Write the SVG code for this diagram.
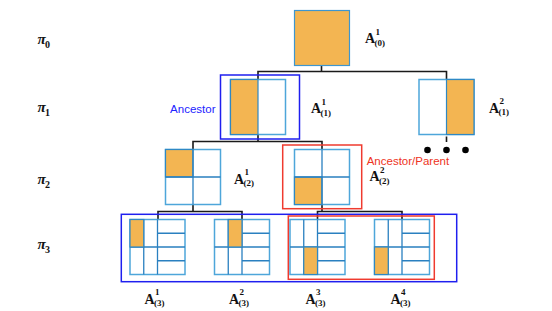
<svg xmlns="http://www.w3.org/2000/svg" width="552" height="311" viewBox="0 0 552 311">
<style>
.n{fill:#fff;stroke:#4ea6da;stroke-width:1.5}
.o{fill:#F3B552;stroke:#2f88c4;stroke-width:1.2}
.g{stroke:#2a80c0;stroke-width:1.3;fill:none}
.c{stroke:#1a1a1a;stroke-width:1.6;fill:none}
.bb{fill:none;stroke:#1f1fef;stroke-width:1.5}
.rb{fill:none;stroke:#ef3b2f;stroke-width:1.5}
.A{font-family:"Liberation Serif",serif;font-weight:bold;font-size:14px;fill:#111}
.s{font-family:"Liberation Serif",serif;font-weight:bold;font-size:9px;fill:#111}
.p{font-family:"Liberation Serif",serif;font-weight:bold;font-style:italic;font-size:15px;fill:#111}
.ps{font-family:"Liberation Serif",serif;font-weight:bold;font-size:10px;fill:#111}
.lb{font-family:"Liberation Sans",Arial,sans-serif;font-size:11.5px;fill:#2222ff}
.lr{font-family:"Liberation Sans",Arial,sans-serif;font-size:11.5px;fill:#ee3322}
</style>
<defs>
<g id="g3">
<rect class="n" x="0" y="0" width="55" height="55"/>
<path class="g" d="M13.75 0V55M27.5 0V55M0 27.5H27.5M27.5 13.75H55M27.5 27.5H55M27.5 41.25H55"/>
</g>
</defs>

<g id="levels">
<text class="p" x="37.5" y="44">π</text><text class="ps" x="45" y="47.5">0</text>
<text class="p" x="37.5" y="112">π</text><text class="ps" x="45" y="115.5">1</text>
<text class="p" x="37.5" y="184">π</text><text class="ps" x="45" y="187.5">2</text>
<text class="p" x="37.5" y="249">π</text><text class="ps" x="45" y="252.5">3</text>
</g>

<g id="connectors">
<path class="c" d="M321.5 65V71.5M258 79.5V71.5H446.5V79.5"/>
<path class="c" d="M258 134.5V141.5M193 149.5V141.5H322V149.5"/>
<path class="c" d="M446.5 136.5V142"/>
<path class="c" d="M193 204.5V211.5M158 219.5V211.5H242V219.5"/>
<path class="c" d="M322 204.5V211.5M317.5 219.5V211.5H402V219.5"/>
</g>

<g id="boxes">
<rect class="bb" x="220.5" y="75" width="79" height="64"/>
<rect class="rb" x="282.7" y="145" width="79" height="63.7"/>
<rect class="bb" x="121.3" y="214.3" width="335.4" height="67.4"/>
<rect class="rb" x="288.3" y="216" width="146" height="63.3"/>
<text class="lb" x="215.5" y="112.7" text-anchor="end">Ancestor</text>
<text class="lr" x="366.7" y="164.5">Ancestor/Parent</text>
</g>

<g id="n0">
<rect class="o" x="294.5" y="10.5" width="55" height="55" style="stroke:#3d96cf"/>
<text class="A" x="365" y="43">A</text><text class="s" x="375.5" y="34.5">1</text><text class="s" x="374.5" y="45.5">(0)</text>
</g>

<g id="n1a">
<rect class="n" x="230.5" y="79.5" width="55" height="55"/>
<rect class="o" x="230.5" y="79.5" width="27.5" height="55"/>
<text class="A" x="311" y="113">A</text><text class="s" x="321.5" y="104.5">1</text><text class="s" x="320.5" y="115.5">(1)</text>
</g>

<g id="n1b">
<rect class="n" x="419" y="79.5" width="55" height="55"/>
<rect class="o" x="446.5" y="79.5" width="27.5" height="55"/>
<text class="A" x="489" y="112.5">A</text><text class="s" x="499.5" y="104">2</text><text class="s" x="498.5" y="115">(1)</text>
</g>

<g id="dots">
<circle cx="427.5" cy="150" r="3.3" fill="#000"/>
<circle cx="446.5" cy="150" r="3.3" fill="#000"/>
<circle cx="465.5" cy="150" r="3.3" fill="#000"/>
</g>

<g id="n2a">
<rect class="n" x="165.5" y="149.5" width="55" height="55"/>
<rect class="o" x="165.5" y="149.5" width="27.5" height="27.5"/>
<path class="g" d="M193 149.5V204.5M165.5 177H220.5"/>
<text class="A" x="234" y="183.5">A</text><text class="s" x="244.5" y="175">1</text><text class="s" x="243.5" y="186">(2)</text>
</g>

<g id="n2b">
<rect class="n" x="294.5" y="149.5" width="55" height="55"/>
<rect class="o" x="294.5" y="177" width="27.5" height="27.5"/>
<path class="g" d="M322 149.5V204.5M294.5 177H349.5"/>
<text class="A" x="369.5" y="181">A</text><text class="s" x="380" y="173">2</text><text class="s" x="379" y="183.5">(2)</text>
</g>

<g id="n3a">
<use href="#g3" x="130" y="219.5"/>
<rect class="o" x="130" y="219.5" width="13.75" height="27.5"/>
<text class="A" x="144.5" y="303.5">A</text><text class="s" x="155" y="295">1</text><text class="s" x="154" y="306">(3)</text>
</g>

<g id="n3b">
<use href="#g3" x="214.5" y="219.5"/>
<rect class="o" x="228.25" y="219.5" width="13.75" height="27.5"/>
<text class="A" x="229" y="303.5">A</text><text class="s" x="239.5" y="295">2</text><text class="s" x="238.5" y="306">(3)</text>
</g>

<g id="n3c">
<use href="#g3" x="290" y="219.5"/>
<rect class="o" x="303.75" y="247" width="13.75" height="27.5"/>
<text class="A" x="305.5" y="303.5">A</text><text class="s" x="316" y="295">3</text><text class="s" x="315" y="306">(3)</text>
</g>

<g id="n3d">
<use href="#g3" x="374.5" y="219.5"/>
<rect class="o" x="374.5" y="247" width="13.75" height="27.5"/>
<text class="A" x="390.5" y="303.5">A</text><text class="s" x="401" y="295">4</text><text class="s" x="400" y="306">(3)</text>
</g>
</svg>
